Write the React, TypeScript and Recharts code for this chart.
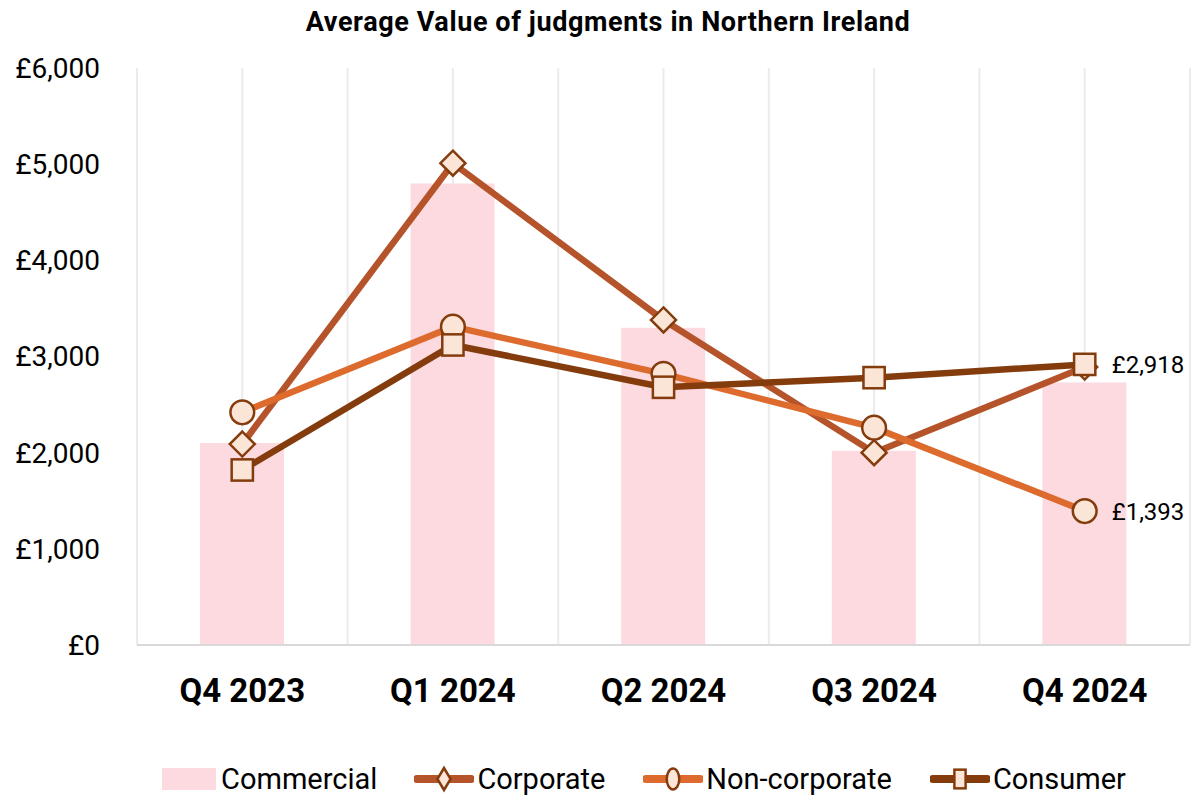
import {
  ComposedChart,
  Bar,
  Line,
  XAxis,
  YAxis,
  CartesianGrid,
  Legend,
  LabelList,
} from 'recharts'

const quarters = ['Q4 2023', 'Q1 2024', 'Q2 2024', 'Q3 2024', 'Q4 2024']
const commercial = [2100, 4800, 3300, 2020, 2730]
const corporate = [2090, 5010, 3380, 2000, 2890]
const nonCorporate = [2420, 3310, 2820, 2260, 1393]
const consumer = [1820, 3120, 2680, 2780, 2918]
const yTicks = [0, 1000, 2000, 3000, 4000, 5000, 6000]

const data = quarters.map((q, i) => ({
  quarter: q,
  commercial: commercial[i],
  corporate: corporate[i],
  nonCorporate: nonCorporate[i],
  consumer: consumer[i],
}))

const FONT = 'Roboto, "Liberation Sans", sans-serif'
const MARKER_FILL = '#FBE5D6'
const MARKER_STROKE = '#843C0C'
const BAR_COLOR = '#FCDADF'

const lineSeries = [
  { key: 'corporate', name: 'Corporate', color: '#B5542A', shape: 'diamond' },
  { key: 'nonCorporate', name: 'Non-corporate', color: '#DE6B2E', shape: 'circle' },
  { key: 'consumer', name: 'Consumer', color: '#843C0C', shape: 'square' },
]

const money = (v: number) => '£' + v.toLocaleString('en-GB')

function Marker({ cx, cy, shape, size, narrow }: { cx: number; cy: number; shape: string; size: number; narrow?: boolean }) {
  const h = size / 2
  const w = narrow ? h * 0.6 : h
  if (shape === 'diamond') {
    return (
      <path
        d={`M${cx},${cy - h} L${cx + w},${cy} L${cx},${cy + h} L${cx - w},${cy} Z`}
        fill={MARKER_FILL}
        stroke={MARKER_STROKE}
        strokeWidth={2.5}
      />
    )
  }
  if (shape === 'circle') {
    return narrow ? (
      <ellipse cx={cx} cy={cy} rx={w * 0.95} ry={h * 0.95} fill={MARKER_FILL} stroke={MARKER_STROKE} strokeWidth={2.5} />
    ) : (
      <circle cx={cx} cy={cy} r={h * 0.95} fill={MARKER_FILL} stroke={MARKER_STROKE} strokeWidth={2.5} />
    )
  }
  return (
    <rect
      x={cx - w * 0.85}
      y={cy - h * 0.85}
      width={w * 1.7}
      height={h * 1.7}
      fill={MARKER_FILL}
      stroke={MARKER_STROKE}
      strokeWidth={2.5}
    />
  )
}

const makeDot = (shape: string) => (props: any) => {
  const { cx, cy, index } = props
  if (cx == null || cy == null) return <g key={index} />
  return (
    <g key={`${shape}-${index}`}>
      <Marker cx={cx} cy={cy} shape={shape} size={25} />
    </g>
  )
}

const lastLabel = (props: any) => {
  const { x, y, value, index } = props
  if (index !== quarters.length - 1) return null
  return (
    <text x={x + 27} y={y} dy={9} fontSize={24} fontFamily={FONT} fill="#000">
      {money(value)}
    </text>
  )
}

function LegendContent() {
  return (
    <div
      style={{
        height: 71,
        display: 'flex',
        alignItems: 'flex-end',
        justifyContent: 'center',
        fontFamily: FONT,
        fontSize: 29,
        color: '#000',
        paddingLeft: 98,
      }}
    >
      <div style={{ display: 'flex', alignItems: 'center', marginRight: 37 }}>
        <svg width={54} height={24} style={{ marginRight: 5 }}>
          <rect x={0} y={1} width={54} height={22} fill={BAR_COLOR} />
        </svg>
        <span>Commercial</span>
      </div>
      {lineSeries.map((s, i) => (
        <div
          key={s.key}
          style={{ display: 'flex', alignItems: 'center', marginRight: i === lineSeries.length - 1 ? 0 : 38 }}
        >
          <svg width={60} height={28} style={{ marginRight: 3 }}>
            <line x1={3} y1={14} x2={57} y2={14} stroke={s.color} strokeWidth={8} strokeLinecap="round" />
            <Marker cx={30} cy={14} shape={s.shape} size={22} narrow />
          </svg>
          <span>{s.name}</span>
        </div>
      ))}
    </div>
  )
}

export default function App() {
  return (
    <div style={{ position: 'absolute', left: 0, top: 0, width: 1191, height: 796, background: '#fff' }}>
      <div
        style={{
          position: 'absolute',
          left: 0,
          top: 6,
          width: 1216,
          textAlign: 'center',
          fontFamily: FONT,
          fontWeight: 700,
          fontSize: 27,
          letterSpacing: 0.6,
          color: '#000',
        }}
      >
        Average Value of judgments in Northern Ireland
      </div>
      <ComposedChart
        width={1191}
        height={796}
        data={data}
        margin={{ top: 68, right: 1, bottom: 0, left: 0 }}
        barCategoryGap={0}
      >
        <CartesianGrid
          horizontal={false}
          stroke="#EBEBEB"
          strokeWidth={2}
          verticalCoordinatesGenerator={({ offset }: any) =>
            Array.from({ length: 11 }, (_, i) => offset.left + (i * offset.width) / 10)
          }
        />
        <XAxis
          dataKey="quarter"
          height={80}
          tickLine={false}
          axisLine={{ stroke: '#D9D9D9', strokeWidth: 2 }}
          tick={{ fill: '#000', fontSize: 33, fontWeight: 700, fontFamily: FONT }}
          tickMargin={28}
        />
        <YAxis
          width={137}
          domain={[0, 6000]}
          ticks={yTicks}
          axisLine={false}
          tickLine={false}
          tickSize={0}
          tickMargin={37}
          tickFormatter={money}
          tick={{ fill: '#000', fontSize: 28, fontFamily: FONT }}
        />
        <Legend verticalAlign="bottom" content={() => <LegendContent />} />
        <Bar dataKey="commercial" name="Commercial" fill={BAR_COLOR} barSize={84} isAnimationActive={false} />
        {lineSeries.map((s) => (
          <Line
            key={s.key}
            type="linear"
            dataKey={s.key}
            name={s.name}
            stroke={s.color}
            strokeWidth={6.5}
            dot={makeDot(s.shape)}
            activeDot={false}
            isAnimationActive={false}
          >
            {s.key !== 'corporate' && <LabelList dataKey={s.key} content={lastLabel} />}
          </Line>
        ))}
      </ComposedChart>
    </div>
  )
}
